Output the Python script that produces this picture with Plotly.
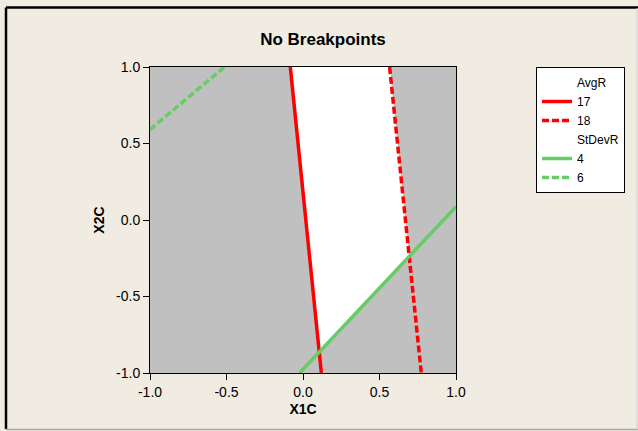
import plotly.graph_objects as go

# ---- data ----
title_text = "No Breakpoints"
x_label = "X1C"
y_label = "X2C"
tick_vals = [-1.0, -0.5, 0.0, 0.5, 1.0]
tick_text = ["-1.0", "-0.5", "0.0", "0.5", "1.0"]

# AvgR contours
avgr_17_x1 = [-0.083, 0.016, 0.092, 0.120]
avgr_17_x2 = [1.0, 0.05, -0.72, -1.0]
avgr_18_x1 = [0.566, 0.656, 0.745, 0.773]
avgr_18_x2 = [1.0, 0.132, -0.72, -1.0]
# StDevR contours
stdevr_4_x1 = [-0.022, 1.0]
stdevr_4_x2 = [-1.0, 0.087]
stdevr_6_x1 = [-1.0, -0.514]
stdevr_6_x2 = [0.591, 1.0]

RED = "#FF0000"
GREEN = "#66CC66"
BG = "#F0ECE2"
GRAY = "#C0C0C0"


def intersect(ax, ay, bx, by):
    """Intersection of two polylines (first found)."""
    for i in range(len(ax) - 1):
        for j in range(len(bx) - 1):
            x1, y1, x2, y2 = ax[i], ay[i], ax[i + 1], ay[i + 1]
            x3, y3, x4, y4 = bx[j], by[j], bx[j + 1], by[j + 1]
            d = (x1 - x2) * (y3 - y4) - (y1 - y2) * (x3 - x4)
            if d == 0:
                continue
            t = ((x1 - x3) * (y3 - y4) - (y1 - y3) * (x3 - x4)) / d
            u = -((x1 - x2) * (y1 - y3) - (y1 - y2) * (x1 - x3)) / d
            if 0 <= t <= 1 and 0 <= u <= 1:
                return x1 + t * (x2 - x1), y1 + t * (y2 - y1)
    return None


# feasible (white) region: between AvgR 17 and 18, above StDevR 4
p_r18 = intersect(avgr_18_x1, avgr_18_x2, stdevr_4_x1, stdevr_4_x2)
p_r17 = intersect(avgr_17_x1, avgr_17_x2, stdevr_4_x1, stdevr_4_x2)
poly_x, poly_y = [], []
for xx, yy in zip(avgr_18_x1, avgr_18_x2):
    if yy > p_r18[1]:
        poly_x.append(xx)
        poly_y.append(yy)
poly_x.append(p_r18[0]); poly_y.append(p_r18[1])
poly_x.append(p_r17[0]); poly_y.append(p_r17[1])
for xx, yy in reversed(list(zip(avgr_17_x1, avgr_17_x2))):
    if yy > p_r17[1]:
        poly_x.append(xx)
        poly_y.append(yy)
poly_x.append(poly_x[0]); poly_y.append(poly_y[0])

fig = go.Figure()
fig.add_trace(go.Scatter(x=poly_x, y=poly_y, mode="lines", fill="toself",
                         fillcolor="white", line=dict(width=0, color="white"),
                         showlegend=False, hoverinfo="skip"))

blank = dict(color="rgba(0,0,0,0)", width=0)
fig.add_trace(go.Scatter(x=[None], y=[None], mode="lines", name="AvgR", line=blank))
fig.add_trace(go.Scatter(x=avgr_17_x1, y=avgr_17_x2, mode="lines", name="17",
                         line=dict(color=RED, width=3.5)))
fig.add_trace(go.Scatter(x=avgr_18_x1, y=avgr_18_x2, mode="lines", name="18",
                         line=dict(color=RED, width=3.5, dash="7px,3px")))
fig.add_trace(go.Scatter(x=[None], y=[None], mode="lines", name="StDevR", line=blank))
fig.add_trace(go.Scatter(x=stdevr_4_x1, y=stdevr_4_x2, mode="lines", name="4",
                         line=dict(color=GREEN, width=3.5)))
fig.add_trace(go.Scatter(x=stdevr_6_x1, y=stdevr_6_x2, mode="lines", name="6",
                         line=dict(color=GREEN, width=3.5, dash="7px,3px")))

W, H = 638, 431
L, R, T, B = 150, 456, 67, 373


def px(xp):
    return (xp - L) / (R - L)


def py(yp):
    return (B - yp) / (B - T)


axis_common = dict(range=[-1, 1], tickvals=tick_vals, ticktext=tick_text,
                   ticks="outside", ticklen=6, tickwidth=1, tickcolor="black",
                   showline=True, linecolor="black", linewidth=1, mirror=True,
                   showgrid=False, zeroline=False,
                   tickfont=dict(family="Liberation Sans, Arial", size=14, color="black"))

fig.update_layout(
    width=W, height=H,
    margin=dict(l=L, r=W - R, t=T, b=H - B),
    paper_bgcolor=BG, plot_bgcolor=GRAY,
    title=dict(text="<b>" + title_text + "</b>", x=323 / W, xref="container",
               y=1 - 39 / H, yref="container", xanchor="center", yanchor="middle",
               font=dict(family="Liberation Sans, Arial", size=17, color="black")),
    xaxis=dict(**axis_common, title=dict(text="<b>" + x_label + "</b>", standoff=5,
               font=dict(family="Liberation Sans, Arial", size=14, color="black"))),
    yaxis=dict(**axis_common, title=dict(text="<b>" + y_label + "</b>", standoff=8,
               font=dict(family="Liberation Sans, Arial", size=14, color="black"))),
    legend=dict(x=px(536), y=py(67), xanchor="left", yanchor="top",
                bgcolor="white", bordercolor="black", borderwidth=1,
                font=dict(family="Liberation Sans, Arial", size=12, color="black"),
                tracegroupgap=0, traceorder="normal"),
    showlegend=True,
    shapes=[
        dict(type="line", xref="paper", yref="paper", x0=px(6), x1=px(6), y0=py(7.5), y1=py(429),
             line=dict(color="black", width=2.5)),
        dict(type="line", xref="paper", yref="paper", x0=px(6), x1=px(638), y0=py(7.5), y1=py(7.5),
             line=dict(color="black", width=2.5)),
        dict(type="line", xref="paper", yref="paper", x0=px(6), x1=px(638), y0=py(429.5), y1=py(429.5),
             line=dict(color="#A8A8A8", width=1.5)),
        dict(type="line", xref="paper", yref="paper", x0=px(637), x1=px(637), y0=py(8), y1=py(429.5),
             line=dict(color="#D0D0D0", width=1)),
    ],
)

fig.write_html("out.html")
